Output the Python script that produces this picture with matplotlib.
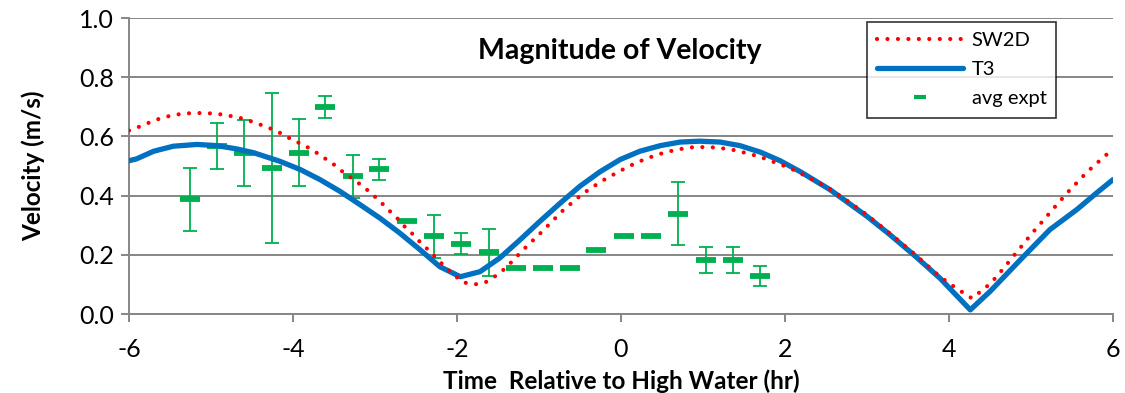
import numpy as np
import matplotlib.pyplot as plt
from matplotlib.lines import Line2D

plt.rcParams['font.family'] = ['Lato', 'DejaVu Sans']
plt.rcParams['axes.unicode_minus'] = False

# SW2D model (red dotted)
sw_t = [-6.0, -5.91, -5.78, -5.65, -5.51, -5.37, -5.23, -5.09, -4.94, -4.80, -4.66, -4.52,
        -4.30, -4.12, -4.02, -3.87, -3.74, -3.51, -3.40, -3.16, -3.05, -2.94, -2.84, -2.74,
        -2.64, -2.54, -2.44, -2.34, -2.24, -2.14, -2.04, -1.92, -1.80, -1.72, -1.64, -1.51,
        -1.40, -1.30, -1.20, -1.10, -0.99, -0.89, -0.79, -0.69, -0.58, -0.47, -0.35, -0.23,
        -0.10, 0.02, 0.15, 0.28, 0.42, 0.56, 0.70, 0.84, 0.98, 1.12, 1.26, 1.40, 1.55, 1.69,
        1.82, 1.96, 2.09, 2.30, 2.55, 2.80, 3.00, 3.28, 3.57, 3.89, 4.10, 4.28, 4.40, 4.51,
        4.61, 4.70, 4.79, 4.88, 4.97, 5.06, 5.16, 5.25, 5.35, 5.44, 5.54, 5.64, 5.74, 5.85,
        5.96, 6.0]
sw_v = [0.620, 0.629, 0.644, 0.658, 0.669, 0.676, 0.679, 0.679, 0.677, 0.671, 0.664, 0.652,
        0.630, 0.607, 0.590, 0.571, 0.550, 0.507, 0.482, 0.434, 0.409, 0.381, 0.353, 0.327,
        0.296, 0.270, 0.240, 0.214, 0.185, 0.158, 0.132, 0.107, 0.100, 0.102, 0.109, 0.132,
        0.157, 0.186, 0.215, 0.242, 0.271, 0.299, 0.327, 0.355, 0.380, 0.406, 0.428, 0.450,
        0.470, 0.488, 0.506, 0.522, 0.536, 0.548, 0.556, 0.563, 0.564, 0.563, 0.559, 0.553,
        0.542, 0.532, 0.518, 0.504, 0.489, 0.460, 0.422, 0.375, 0.335, 0.272, 0.205, 0.126,
        0.085, 0.053, 0.079, 0.104, 0.136, 0.166, 0.197, 0.227, 0.258, 0.288, 0.319, 0.349,
        0.380, 0.409, 0.438, 0.467, 0.494, 0.521, 0.548, 0.555]

# T3 model (blue)
t3_t = [-6.0, -5.91, -5.70, -5.46, -5.17, -4.93, -4.69, -4.48, -4.16, -3.91, -3.67, -3.43,
        -3.18, -2.94, -2.70, -2.45, -2.21, -1.96, -1.72, -1.48, -1.23, -0.99, -0.74, -0.50,
        -0.26, -0.01, 0.23, 0.48, 0.72, 0.96, 1.21, 1.45, 1.70, 1.94, 2.18, 2.55, 3.00, 3.28,
        3.57, 3.89, 4.26, 4.50, 4.87, 5.23, 5.56, 5.80, 6.0]
t3_v = [0.518, 0.524, 0.550, 0.567, 0.573, 0.569, 0.558, 0.545, 0.516, 0.488, 0.454, 0.415,
        0.369, 0.324, 0.274, 0.217, 0.160, 0.126, 0.143, 0.189, 0.251, 0.313, 0.375, 0.432,
        0.480, 0.522, 0.550, 0.569, 0.581, 0.584, 0.581, 0.569, 0.547, 0.518, 0.482, 0.420,
        0.330, 0.268, 0.200, 0.121, 0.014, 0.076, 0.183, 0.285, 0.353, 0.409, 0.454]

# averaged experiment
ex_t = [-5.26, -4.93, -4.60, -4.26, -3.93, -3.61, -3.27, -2.95, -2.61, -2.28, -1.95, -1.61,
        -1.28, -0.95, -0.62, -0.30, 0.04, 0.37, 0.70, 1.04, 1.36, 1.70]
ex_v = [0.389, 0.569, 0.545, 0.495, 0.545, 0.701, 0.465, 0.490, 0.313, 0.263, 0.238, 0.209,
        0.154, 0.154, 0.154, 0.215, 0.263, 0.263, 0.339, 0.183, 0.183, 0.128]
ex_hi = [0.494, 0.646, 0.655, 0.748, 0.658, 0.735, 0.536, 0.524, np.nan, 0.334, 0.273, 0.287,
         np.nan, np.nan, np.nan, np.nan, np.nan, np.nan, 0.445, 0.225, 0.225, 0.163]
ex_lo = [0.282, 0.490, 0.432, 0.240, 0.432, 0.663, 0.392, 0.454, np.nan, 0.189, 0.203, 0.130,
         np.nan, np.nan, np.nan, np.nan, np.nan, np.nan, 0.232, 0.140, 0.140, 0.093]

red = '#FF0000'
blue = '#0070C0'
green = '#00B050'
grey = '#868686'

fig = plt.figure(figsize=(11.25, 3.93), dpi=100)
ax = fig.add_axes([0.1147, 0.201, 0.8746, 0.753])

# error bars, only where there is a spread
et = np.array(ex_t)
ev = np.array(ex_v)
hi = np.array(ex_hi)
lo = np.array(ex_lo)
has = ~np.isnan(hi)
ax.errorbar(et[has], ev[has], yerr=[ev[has] - lo[has], hi[has] - ev[has]],
            fmt='none', ecolor=green, elinewidth=1.3, capsize=5, capthick=1.3, zorder=2)
ax.plot(ex_t, ex_v, linestyle='none', marker='_', markersize=15, markeredgewidth=4.2,
        color=green, zorder=3)

ax.plot(t3_t, t3_v, color=blue, lw=3.8, solid_capstyle='round', solid_joinstyle='round', zorder=4)
ax.plot(sw_t, sw_v, color=red, lw=3.0, linestyle=(0, (0.01, 2.5)), dash_capstyle='round', zorder=5)

ax.set_xlim(-6, 6)
ax.set_ylim(0, 1.0)
ax.set_xticks(np.arange(-6, 7, 2))
ax.set_yticks(np.arange(0, 1.01, 0.2))
ax.set_yticklabels(['%.1f' % v for v in np.arange(0, 1.01, 0.2)])
ax.yaxis.grid(True, color=grey, lw=1.4)
ax.set_axisbelow(True)
for s in ['top', 'right']:
    ax.spines[s].set_visible(False)
for s in ['left', 'bottom']:
    ax.spines[s].set_color(grey)
    ax.spines[s].set_linewidth(1.4)
ax.tick_params(axis='both', colors=grey, labelcolor='black', labelsize=18, width=1.4, length=6)
ax.tick_params(axis='x', pad=11)
ax.tick_params(axis='y', pad=5)
ax.set_xlabel('Time  Relative to High Water (hr)', fontsize=17.5, fontweight='bold', labelpad=6)
ax.set_ylabel('Velocity (m/s)', fontsize=17.5, fontweight='bold', labelpad=24)

ax.text(0.499, 0.89, 'Magnitude of Velocity', transform=ax.transAxes, ha='center', va='center',
        fontsize=20.5, fontweight='bold')

handles = [
    Line2D([], [], color=red, lw=3.0, linestyle=(0, (0.01, 2.5)), dash_capstyle='round'),
    Line2D([], [], color=blue, lw=3.8, solid_capstyle='round'),
    Line2D([], [], color=green, linestyle='none', marker='_', markersize=9, markeredgewidth=3),
]
leg = ax.legend(handles, ['SW2D', 'T3', 'avg expt'], loc='upper left',
                bbox_to_anchor=(0.7498, 0.987), fontsize=14.5, frameon=True, fancybox=False,
                edgecolor='black', handlelength=4.3, handletextpad=0.4, borderpad=0.5,
                labelspacing=0.6, borderaxespad=0)
leg.get_frame().set_linewidth(1.2)

plt.savefig('out.png', dpi=100)
